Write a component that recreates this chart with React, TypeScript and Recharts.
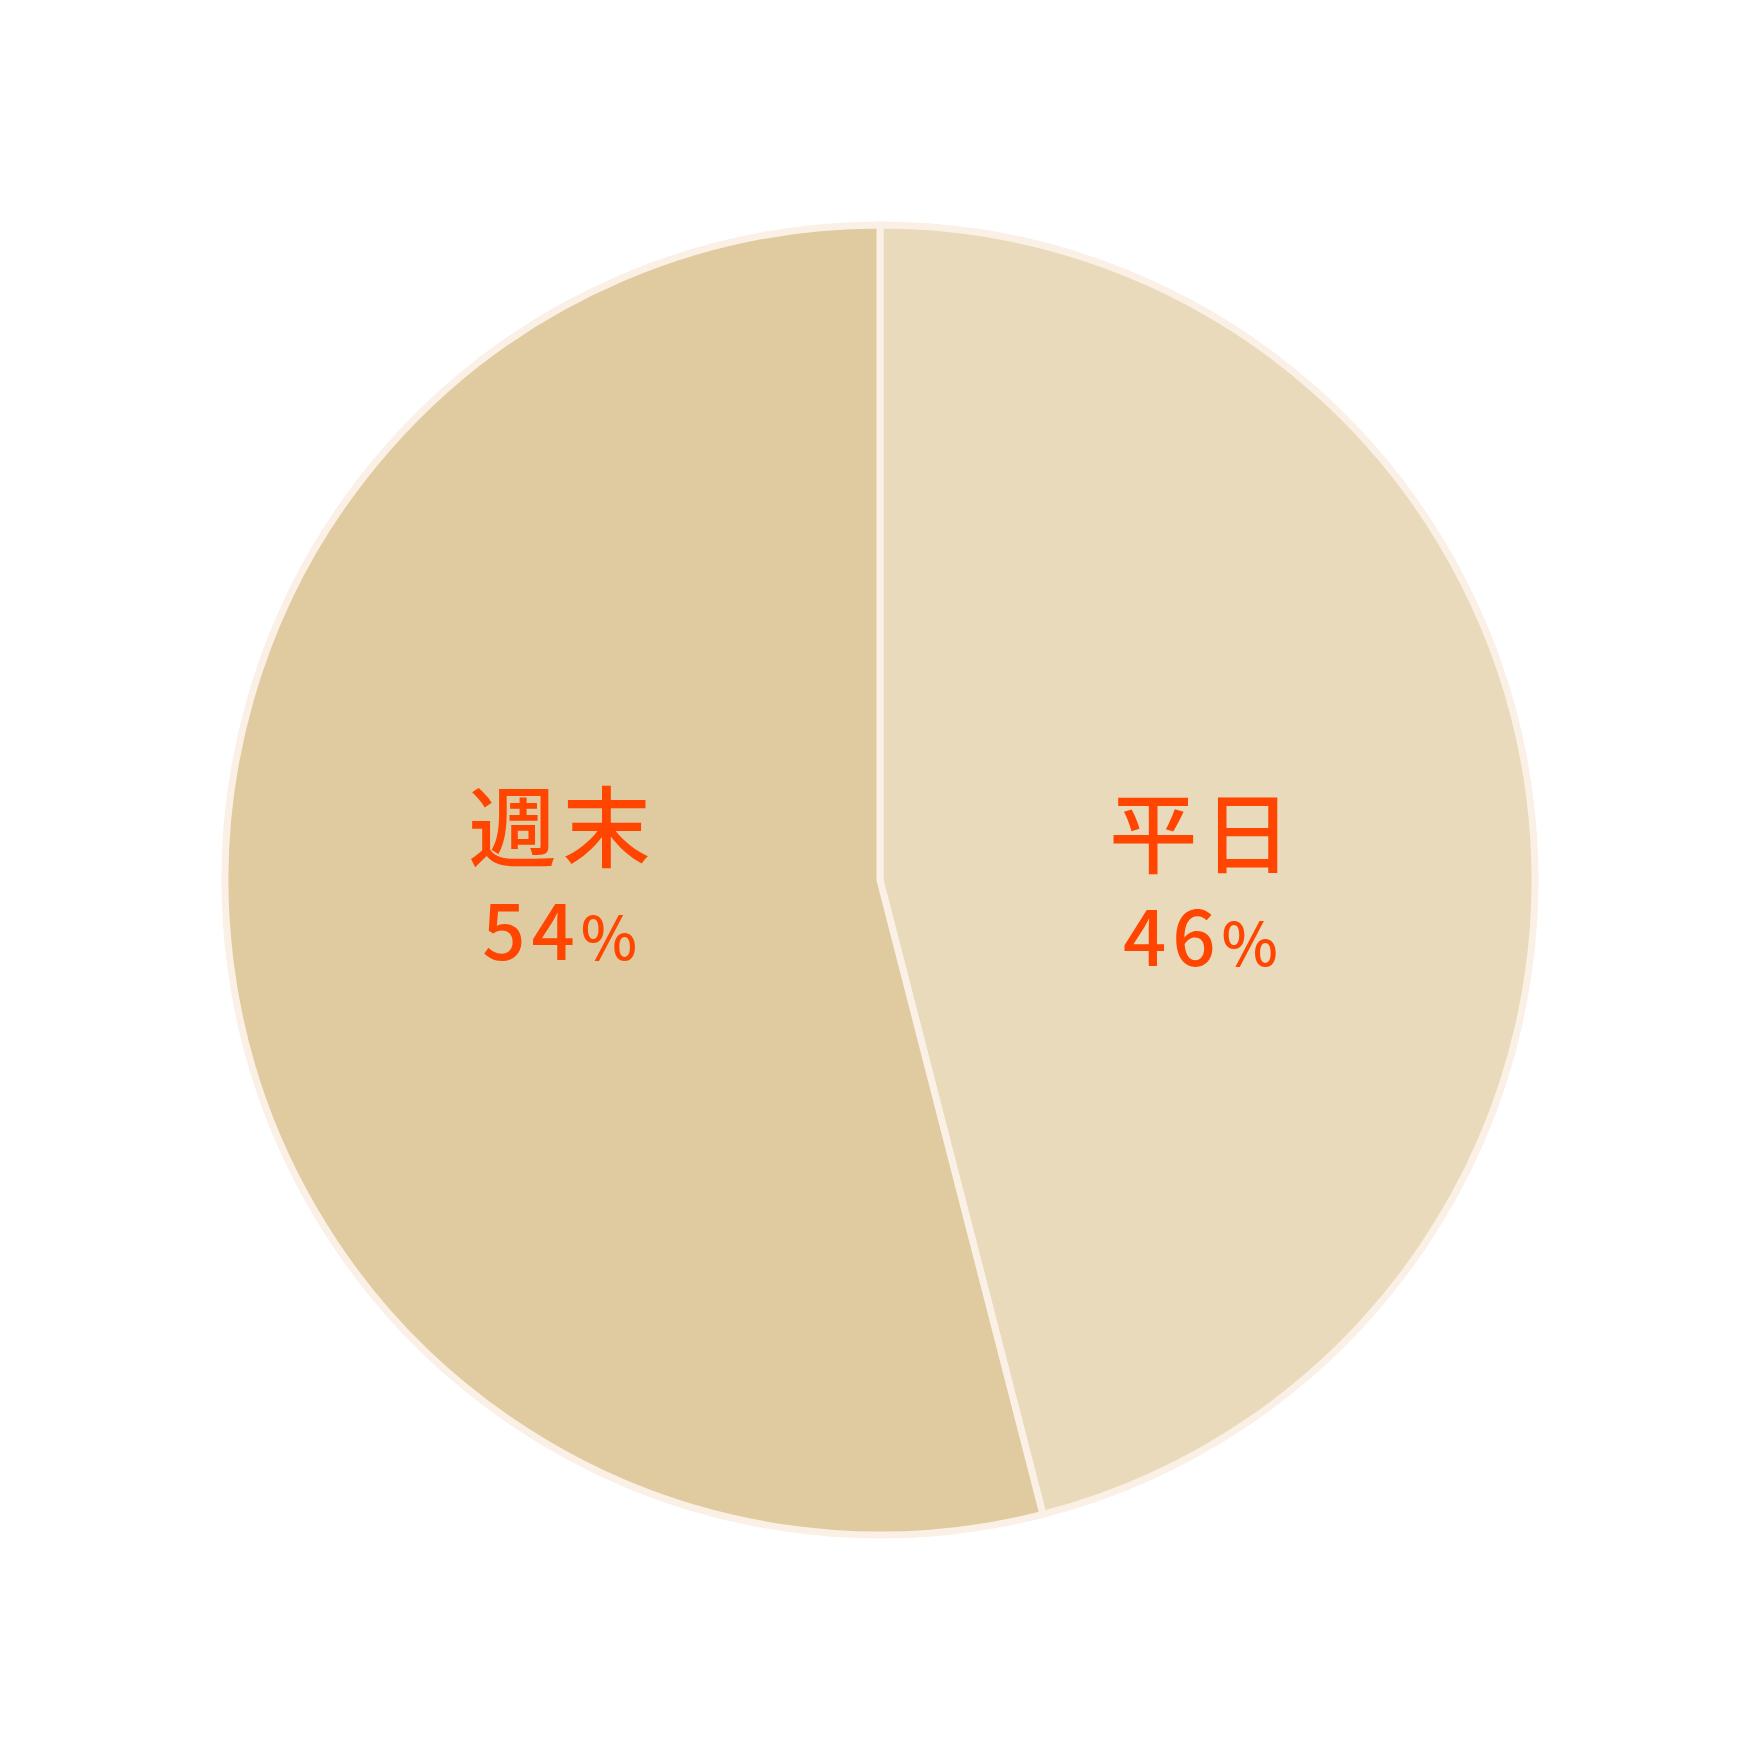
import React from 'react';
import { PieChart, Pie, Cell } from 'recharts';

const categories: string[] = ['平日', '週末'];
const values: number[] = [46, 54];
const sliceColors: string[] = ['#E8DABB', '#E0CA9F'];

const data = categories.map((name, i) => ({ name, value: values[i] }));

const RAD = Math.PI / 180;
const FONT = '"Noto Sans CJK JP", "Noto Sans", sans-serif';

const renderLabel = (props: any) => {
  const { cx, cy, midAngle, outerRadius, name, percent } = props;
  const r = outerRadius * 0.493;
  const x = cx + r * Math.cos(-midAngle * RAD) + 3;
  const y = cy - 17 + 20 * Math.sin(midAngle * RAD);
  const pct = Math.round(percent * 100);
  return (
    <text
      x={x}
      y={y}
      textAnchor="middle"
      fill="#FF4500"
      fontFamily={FONT}
      fontWeight={500}
      letterSpacing={6}
    >
      <tspan x={x} fontSize={88}>{name}</tspan>
      <tspan x={x} dy={100} fontSize={76}>
        {pct}
      </tspan>
      <tspan fontSize={60}>%</tspan>
    </text>
  );
};

export default function App() {
  return (
    <div style={{ position: 'absolute', left: 0, top: 0, width: 1750, height: 1750, background: '#ffffff' }}>
      <PieChart width={1750} height={1750}>
        <Pie
          data={data}
          dataKey="value"
          nameKey="name"
          cx={875}
          cy={875}
          outerRadius={655}
          startAngle={90}
          endAngle={-270}
          stroke="#FAF0E6"
          strokeWidth={7}
          labelLine={false}
          label={renderLabel}
          isAnimationActive={false}
        >
          {data.map((d, i) => (
            <Cell key={d.name} fill={sliceColors[i]} />
          ))}
        </Pie>
      </PieChart>
    </div>
  );
}
